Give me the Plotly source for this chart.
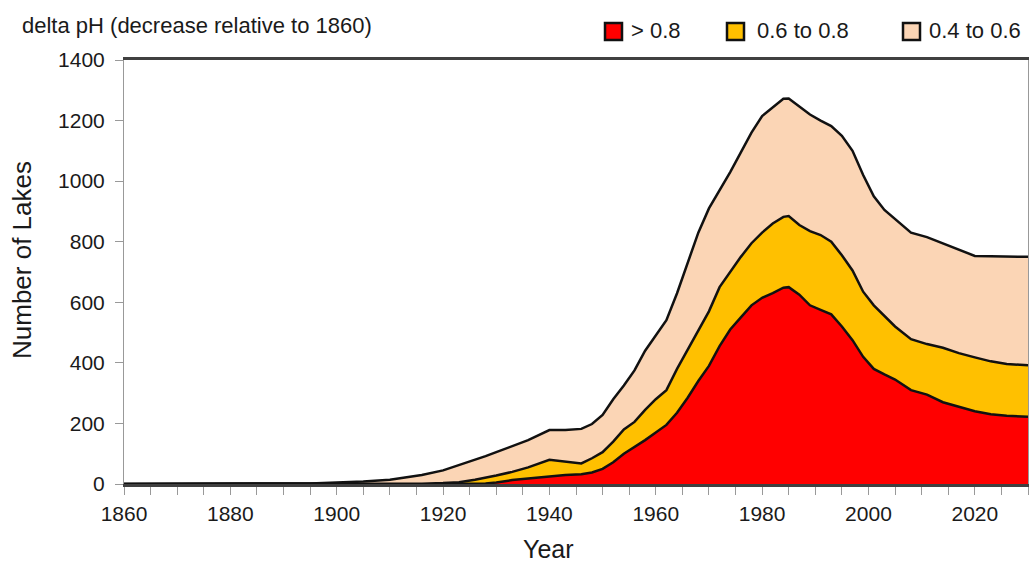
import plotly.graph_objects as go

# ---- data ----
years = [1860, 1870, 1880, 1885, 1890, 1895, 1900, 1905, 1910, 1913,
         1916, 1920, 1923, 1926, 1928, 1930, 1933, 1936, 1940, 1943,
         1946, 1948, 1950, 1952, 1954, 1956, 1958, 1960, 1962, 1964,
         1966, 1968, 1970, 1972, 1974, 1976, 1978, 1980, 1982, 1984,
         1985, 1987, 1989, 1991, 1993, 1995, 1997, 1999, 2001, 2003,
         2005, 2008, 2011, 2014, 2017, 2020, 2023, 2026, 2030]

gt_08 = [0, 0, 0, 0, 0, 0, 0, 0, 0, 0,
         0, 0, 0, 0, 2, 5, 13, 18, 26, 30,
         32, 38, 50, 72, 100, 122, 145, 170, 195, 235,
         285, 340, 390, 455, 510, 550, 590, 615, 630, 648,
         650, 625, 590, 575, 560, 520, 475, 420, 380, 362,
         345, 310, 295, 270, 255, 240, 230, 225, 222]

r06_08 = [0, 0, 0, 0, 0, 0, 0, 0, 0, 0,
          1, 3, 6, 14, 18, 23, 27, 37, 54, 45,
          36, 47, 55, 68, 80, 83, 100, 110, 115, 145,
          160, 165, 180, 195, 190, 200, 205, 215, 230, 234,
          235, 230, 245, 247, 240, 235, 230, 215, 210, 193,
          175, 168, 167, 180, 177, 178, 175, 171, 170]

r04_06 = [0, 0, 0, 0.5, 1, 2, 5, 8, 14, 22,
          29, 42, 56, 66, 72, 77, 85, 90, 98, 103,
          114, 113, 123, 140, 145, 170, 195, 210, 231, 250,
          285, 325, 340, 320, 330, 345, 365, 385, 385, 390,
          388, 390, 385, 378, 382, 395, 395, 385, 360, 350,
          355, 352, 353, 345, 343, 335, 347, 356, 358]

series_names = ["> 0.8", "0.6 to 0.8", "0.4 to 0.6"]
series_values = [gt_08, r06_08, r04_06]
series_colors = ["#FF0000", "#FFC000", "#FBD5B5"]

x_ticks = [1860, 1880, 1900, 1920, 1940, 1960, 1980, 2000, 2020]
y_ticks = [0, 200, 400, 600, 800, 1000, 1200, 1400]

FONT = "Liberation Sans, Arial, sans-serif"
W, H = 1030, 566
L, R, T, B = 124, 2, 60, 82


def px2x(px):
    return (px - L) / (W - L - R)


def py2y(py):
    return (H - B - py) / (H - T - B)


fig = go.Figure()
for name, vals, col in zip(series_names, series_values, series_colors):
    fig.add_trace(go.Scatter(
        x=years, y=vals, name=name, mode="lines",
        stackgroup="one", fill="tonexty", fillcolor=col,
        line=dict(color="#111111", width=2.5),
        showlegend=False,
    ))

shapes = []
annotations = []

# custom legend
leg = [(605, 629), (727, 755), (903, 927)]
for (sx, tx), name, col in zip(leg, series_names, series_colors):
    shapes.append(dict(type="rect", xref="paper", yref="paper",
                       x0=px2x(sx), x1=px2x(sx + 17), y0=py2y(40), y1=py2y(23),
                       fillcolor=col, line=dict(color="#111111", width=2.5)))
    annotations.append(dict(xref="paper", yref="paper", x=px2x(tx), y=py2y(31),
                            text=name, showarrow=False, xanchor="left", yanchor="middle",
                            font=dict(family=FONT, size=22, color="#1a1a1a")))

annotations.append(dict(xref="paper", yref="paper", x=px2x(20), y=py2y(25),
                        text="delta pH (decrease relative to 1860)", showarrow=False,
                        xanchor="left", yanchor="middle",
                        font=dict(family=FONT, size=22, color="#1a1a1a")))
annotations.append(dict(xref="paper", yref="paper", x=px2x(22), y=py2y(260),
                        text="Number of Lakes", showarrow=False, textangle=-90,
                        xanchor="center", yanchor="middle",
                        font=dict(family=FONT, size=26, color="#1a1a1a")))
annotations.append(dict(xref="paper", yref="paper", x=px2x(548), y=py2y(549),
                        text="Year", showarrow=False,
                        xanchor="center", yanchor="middle",
                        font=dict(family=FONT, size=25, color="#1a1a1a")))

fig.update_layout(
    width=W, height=H,
    margin=dict(l=L, r=R, t=T, b=B, pad=0),
    paper_bgcolor="white", plot_bgcolor="white",
    font=dict(family=FONT, size=21, color="#1a1a1a"),
    shapes=shapes, annotations=annotations,
    hovermode=False,
)
fig.update_xaxes(
    range=[1860, 2030], tickvals=x_ticks, ticktext=[str(v) for v in x_ticks],
    showgrid=False, zeroline=False,
    showline=True, linecolor="#404040", linewidth=2.5, mirror=True,
    ticks="outside", ticklen=8, tickwidth=1, tickcolor="#999999",
    minor=dict(dtick=5, tick0=1860, ticks="outside", ticklen=8, tickwidth=1, tickcolor="#999999"),
    tickfont=dict(family=FONT, size=21, color="#1a1a1a"),
    ticklabelstandoff=1,
)
fig.update_yaxes(
    range=[0, 1400], tickvals=y_ticks, ticktext=[str(v) for v in y_ticks],
    showgrid=False, zeroline=False,
    showline=True, linecolor="#999999", linewidth=1, mirror=True,
    ticks="outside", ticklen=8, tickwidth=1, tickcolor="#999999",
    tickfont=dict(family=FONT, size=21, color="#1a1a1a"),
    ticklabelstandoff=6,
)

fig.write_html("out.html")
